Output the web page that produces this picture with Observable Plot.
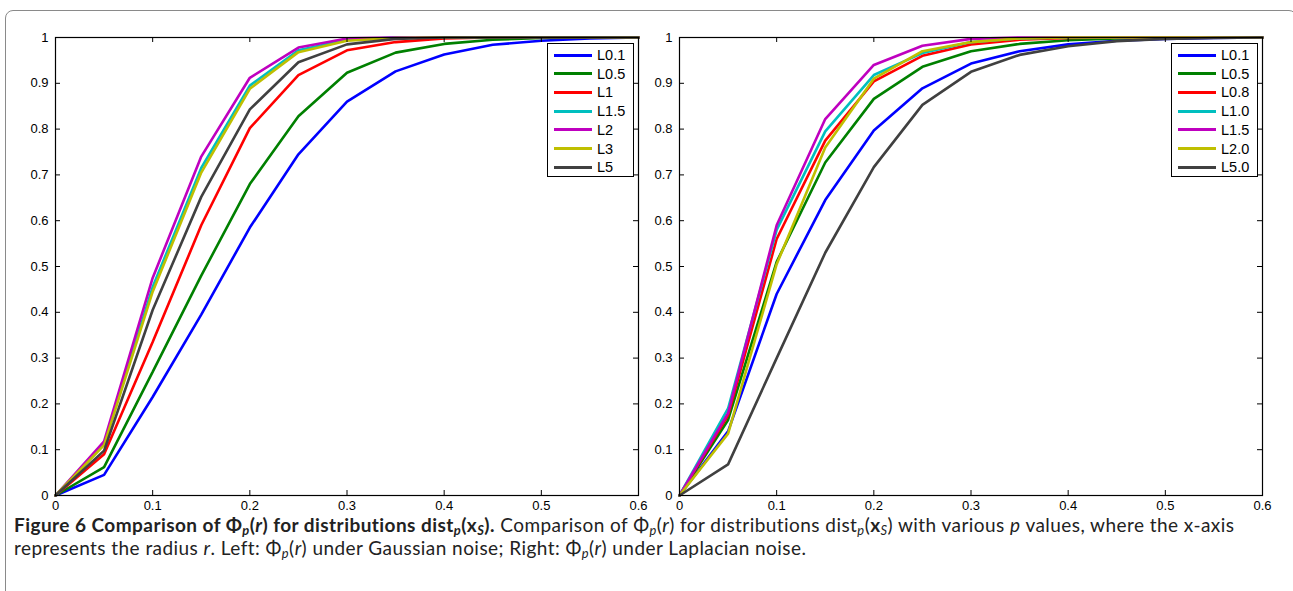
<!DOCTYPE html>
<html>
<head>
<meta charset="utf-8">
<script src="https://cdn.jsdelivr.net/npm/d3@7"></script>
<script src="https://cdn.jsdelivr.net/npm/@observablehq/plot@0.6"></script>
<style>
  body { margin: 0; background: #fff; }
  #wrap { position: relative; width: 1293px; height: 591px; overflow: hidden; background: #fff; }
  #border { position: absolute; left: 5px; top: 10px; width: 1290px; height: 620px; border: 1px solid #8a8a8a; border-radius: 8px; }
  .panel { position: absolute; top: 0; }
  .panel svg { background: transparent !important; }
  .legend { position: absolute; border: 1px solid #000; background: #fff; font-family: "Liberation Sans", Arial, sans-serif; font-size: 14.5px; }
  .legend .row { position: absolute; left: 0; height: 18px; }
  .legend .sw { position: absolute; left: 6px; width: 38px; height: 3px; }
  .legend .lab { position: absolute; left: 49px; line-height: 18px; top: -9px; white-space: nowrap; color: #000; }
  #caption { position: absolute; left: 14px; top: 512.5px; width: 1275px; font-family: Lato, "Open Sans", sans-serif; font-size: 19px; line-height: 23px; color: #222; letter-spacing: 0px; white-space: nowrap; }
  #caption b { font-weight: 700; }
  #caption sub { font-size: 68%; vertical-align: -0.25em; line-height: 0; }
</style>
</head>
<body>
<div id="wrap">
  <div id="border"></div>
  <div id="left" class="panel" style="left:0px"></div>
  <div id="right" class="panel" style="left:640px"></div>
  <div id="caption">
    <div id="cap1"><b>Figure 6 Comparison of Φ<sub><i>p</i></sub>(<i>r</i>) for distributions dist<sub><i>p</i></sub>(x<sub><i>S</i></sub>).</b> Comparison of Φ<sub><i>p</i></sub>(<i>r</i>) for distributions dist<sub><i>p</i></sub>(<b>x</b><sub><i>S</i></sub>) with various <i>p</i> values, where the x-axis</div>
    <div id="cap2">represents the radius <i>r</i>. Left: Φ<sub><i>p</i></sub>(<i>r</i>) under Gaussian noise; Right: Φ<sub><i>p</i></sub>(<i>r</i>) under Laplacian noise.</div>
  </div>
</div>
<script>
// radius values (x axis)
const radius = [0, 0.05, 0.1, 0.15, 0.2, 0.25, 0.3, 0.35, 0.4, 0.45, 0.5, 0.55, 0.6];
const ticks = [0, 0.1, 0.2, 0.3, 0.4, 0.5, 0.6];
const yTicks = [0, 0.1, 0.2, 0.3, 0.4, 0.5, 0.6, 0.7, 0.8, 0.9, 1];
const seriesColors = ["#0000ff", "#008000", "#ff0000", "#00bfbf", "#bf00bf", "#bfbf00", "#404040"];

// Left: Gaussian noise
const leftLabels = ["L0.1", "L0.5", "L1", "L1.5", "L2", "L3", "L5"];
const gL01 = [0, 0.045, 0.215, 0.395, 0.585, 0.745, 0.860, 0.926, 0.963, 0.984, 0.993, 0.998, 1];
const gL05 = [0, 0.062, 0.270, 0.480, 0.680, 0.828, 0.923, 0.967, 0.986, 0.995, 0.999, 1, 1];
const gL1  = [0, 0.090, 0.335, 0.590, 0.802, 0.918, 0.972, 0.990, 0.998, 1, 1, 1, 1];
const gL15 = [0, 0.112, 0.455, 0.715, 0.895, 0.972, 0.995, 1, 1, 1, 1, 1, 1];
const gL2  = [0, 0.118, 0.475, 0.740, 0.912, 0.978, 0.998, 1, 1, 1, 1, 1, 1];
const gL3  = [0, 0.110, 0.445, 0.705, 0.888, 0.968, 0.993, 0.999, 1, 1, 1, 1, 1];
const gL5  = [0, 0.098, 0.405, 0.652, 0.843, 0.946, 0.985, 0.997, 1, 1, 1, 1, 1];
const leftValues = [gL01, gL05, gL1, gL15, gL2, gL3, gL5];

// Right: Laplacian noise
const rightLabels = ["L0.1", "L0.5", "L0.8", "L1.0", "L1.5", "L2.0", "L5.0"];
const lL01 = [0, 0.140, 0.440, 0.645, 0.797, 0.889, 0.943, 0.970, 0.985, 0.993, 0.997, 0.999, 1];
const lL05 = [0, 0.165, 0.510, 0.727, 0.866, 0.936, 0.970, 0.986, 0.994, 0.998, 1, 1, 1];
const lL08 = [0, 0.175, 0.560, 0.775, 0.904, 0.960, 0.985, 0.995, 0.999, 1, 1, 1, 1];
const lL10 = [0, 0.190, 0.580, 0.795, 0.918, 0.966, 0.990, 0.998, 1, 1, 1, 1, 1];
const lL15 = [0, 0.180, 0.590, 0.822, 0.940, 0.982, 0.997, 1, 1, 1, 1, 1, 1];
const lL20 = [0, 0.135, 0.505, 0.760, 0.910, 0.970, 0.990, 0.998, 1, 1, 1, 1, 1];
const lL50 = [0, 0.068, 0.300, 0.530, 0.717, 0.853, 0.925, 0.962, 0.981, 0.992, 0.997, 0.999, 1];
const rightValues = [lL01, lL05, lL08, lL10, lL15, lL20, lL50];

function toRows(labels, values) {
  const rows = [];
  labels.forEach((lab, i) => values[i].forEach((v, j) => rows.push({series: lab, r: radius[j], phi: v})));
  return rows;
}

function panel(labels, values, opts) {
  const rows = toRows(labels, values);
  const H = 458, W = 583;
  const fmt = d => String(+d.toFixed(1));
  return Plot.plot({
    width: opts.width, height: 37 + H + 17,
    marginLeft: opts.marginLeft, marginRight: opts.marginRight, marginTop: 37, marginBottom: 17,
    style: {fontFamily: "'Liberation Sans', Arial, sans-serif", fontSize: "13px", color: "#000", background: "transparent", overflow: "visible"},
    x: {domain: [0, 0.6], axis: null, label: null},
    y: {domain: [0, 1], axis: null, label: null},
    color: {domain: labels, range: seriesColors},
    marks: [
      Plot.line(rows, {x: "r", y: "phi", z: "series", stroke: "series", strokeWidth: 2.6, strokeLinejoin: "miter"}),
      Plot.frame({stroke: "#000", strokeWidth: 1.2}),
      Plot.tickX(ticks, {x: d => d, insetTop: H - 5, stroke: "#000"}),
      Plot.tickX(ticks, {x: d => d, insetBottom: H - 5, stroke: "#000"}),
      Plot.tickY(yTicks, {y: d => d, insetRight: W - 5, stroke: "#000"}),
      Plot.tickY(yTicks, {y: d => d, insetLeft: W - 5, stroke: "#000"}),
      Plot.axisX(ticks, {tickSize: 0, tickPadding: 5, tickFormat: fmt, fontSize: 13, label: null}),
      Plot.axisY(yTicks, {tickSize: 0, tickPadding: 7, tickFormat: fmt, fontSize: 13, label: null})
    ]
  });
}

function legend(container, labels, left, top) {
  const box = document.createElement("div");
  box.className = "legend";
  box.style.left = left + "px";
  box.style.top = top + "px";
  box.style.width = "85px";
  box.style.height = "132px";
  labels.forEach((lab, i) => {
    const row = document.createElement("div");
    row.className = "row";
    row.style.top = (11 + i * 18.7) + "px";
    const sw = document.createElement("div");
    sw.className = "sw";
    sw.style.background = seriesColors[i];
    sw.style.top = "-1.5px";
    const t = document.createElement("div");
    t.className = "lab";
    t.textContent = lab;
    row.appendChild(sw); row.appendChild(t);
    box.appendChild(row);
  });
  container.appendChild(box);
}

const leftEl = document.getElementById("left");
leftEl.appendChild(panel(leftLabels, leftValues, {width: 648, marginLeft: 55, marginRight: 10}));
legend(leftEl, leftLabels, 547, 43);

const rightEl = document.getElementById("right");
rightEl.appendChild(panel(rightLabels, rightValues, {width: 634, marginLeft: 39, marginRight: 12}));
legend(rightEl, rightLabels, 531, 43);

// stretch caption line 1 to the reference's width (ends near x = 1235)
const cap1 = document.getElementById("cap1");
const range = document.createRange();
range.selectNodeContents(cap1);
const w1 = range.getBoundingClientRect().width;
const chars1 = cap1.textContent.length;
const ls = (1221 - w1) / chars1;
document.getElementById("caption").style.letterSpacing = Math.max(-0.5, Math.min(0.6, ls)).toFixed(3) + "px";
</script>
</body>
</html>
